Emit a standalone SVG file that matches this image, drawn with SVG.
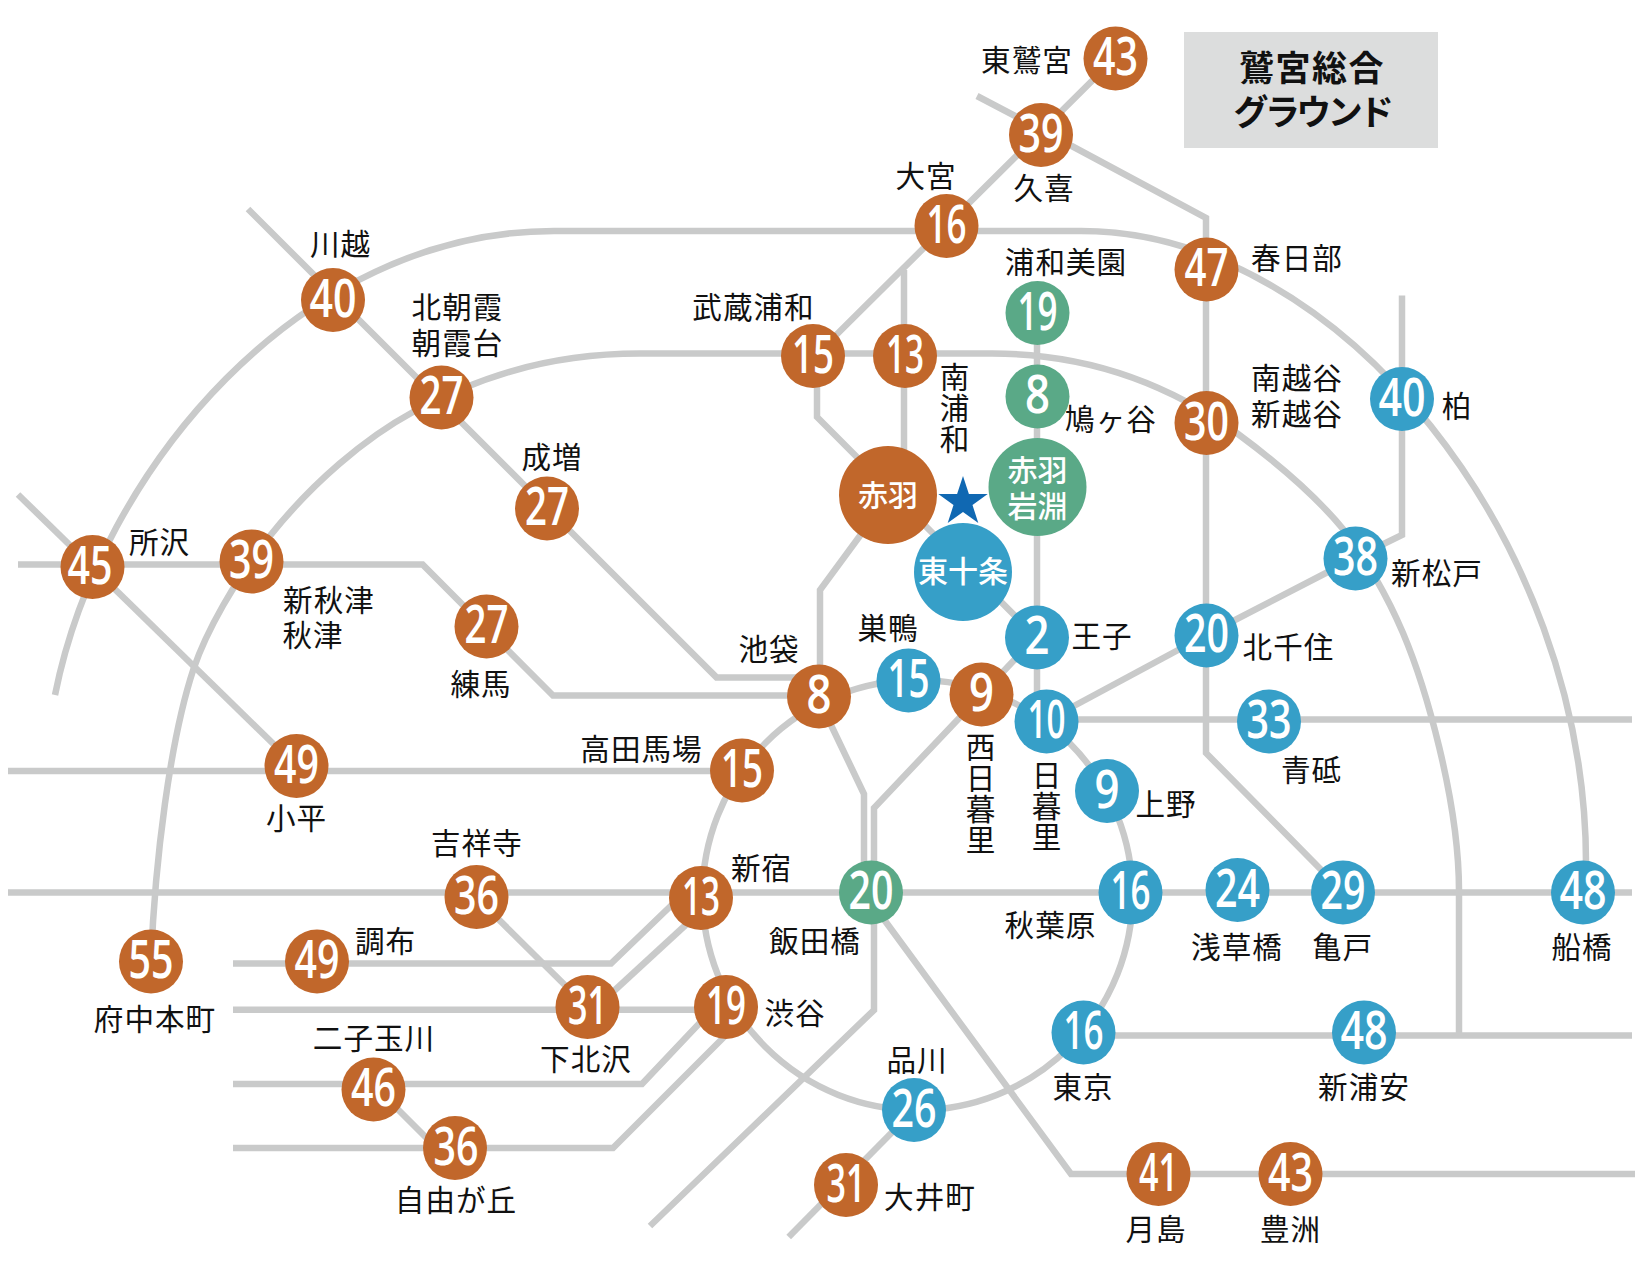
<svg xmlns="http://www.w3.org/2000/svg" width="1640" height="1266" viewBox="0 0 1640 1266">
<style>
.l{fill:none;stroke:#c9caca;stroke-width:6.5;stroke-linejoin:miter}
.o{fill:#c1672b}.b{fill:#369fc8}.g{fill:#5aa987}
.n{font-family:"Open Sans","Liberation Sans",sans-serif;font-weight:600;font-size:52.5px;fill:#fff;text-anchor:middle}
.t{font-family:"Noto Sans CJK JP",sans-serif;font-size:29.6px;letter-spacing:1px;fill:#111;text-anchor:middle}
.v{font-family:"Noto Sans CJK JP",sans-serif;font-size:29.6px;letter-spacing:1.4px;fill:#111;writing-mode:vertical-rl}
.w{font-family:"Noto Sans CJK JP",sans-serif;font-size:30px;font-weight:500;fill:#fff;text-anchor:middle}
.h{font-family:"Noto Sans CJK JP",sans-serif;font-size:35px;font-weight:700;letter-spacing:1.5px;fill:#111;text-anchor:middle}
</style>
<rect width="1640" height="1266" fill="#fff"/>
<g id="connectors">
<circle class="l" cx="917.5" cy="895" r="215"/>
<path class="l" d="M1115,58L817,354V417L1036,637L874,808V1010L650,1226"/>
<path class="l" d="M977,96L1040,129L1206,218V753L1343,892"/>
<path class="l" d="M904,270V450"/>
<path class="l" d="M862,533L820,590V696"/>
<path class="l" d="M1037,313V721"/>
<path class="l" d="M820,702L864,794V892"/>
<path class="l" d="M880,914L1071,1174H1635"/>
<path class="l" d="M55,695C100,470 300,231 554,231H1081C1340,231 1586,540 1586,863V892"/>
<path class="l" d="M151,961C155,860 170,740 193.5,669C206,632 235,580 269,537C312,483 365,438 413,412C470,382 540,353.6 640,353.6H992C1100,353.6 1180,392 1238,434C1280,465 1315,495 1343,529C1368,562 1388,598 1403,633C1425,685 1459,800 1459,891V1035"/>
<path class="l" d="M18,564.4H422.6L553,695.6H819"/>
<path class="l" d="M248,209L716.5,677.4H800"/>
<path class="l" d="M18,494.5L296,766"/>
<path class="l" d="M8,771H742"/>
<path class="l" d="M8,892.6H1632"/>
<path class="l" d="M1046,719.4H1632"/>
<path class="l" d="M233,963.6H611L680,897"/>
<path class="l" d="M233,1009.7H726"/>
<path class="l" d="M476,897L587,1007"/>
<path class="l" d="M590,1013L690,921"/>
<path class="l" d="M233,1084H642L712,1010"/>
<path class="l" d="M233,1148H613L730,1031"/>
<path class="l" d="M373,1084.5L440,1151.5"/>
<path class="l" d="M788.7,1237L914,1110"/>
<path class="l" d="M1083,1035.5H1632"/>
<path class="l" d="M1206,635L1046,721"/>
<path class="l" d="M1206,635L1355,558L1402,535V295.5"/>
</g>
<g id="title"><rect x="1184" y="32" width="254" height="116" fill="#dcdddd"/><text class="h" x="1312" y="81">鷲宮総合</text><text class="h" x="1312" y="125" style="letter-spacing:-3.6px">グラウンド</text></g>
<polygon id="star" fill="#1068b2" points="963,476 968.9,493.9 987.7,494 972.5,505.1 978.3,523 963,512 947.7,523 953.5,505.1 938.3,494 957.1,493.9"/>

<g id="n-higashiwashinomiya"><circle class="o" cx="1115.5" cy="58.5" r="32"/><text class="n" x="1115.5" y="75" textLength="45" lengthAdjust="spacingAndGlyphs">43</text><text class="t" x="1027" y="71">東鷲宮</text></g>
<g id="n-kuki"><circle class="o" cx="1041" cy="135" r="32"/><text class="n" x="1041" y="151.5" textLength="45" lengthAdjust="spacingAndGlyphs">39</text><text class="t" x="1044" y="199">久喜</text></g>
<g id="n-omiya"><circle class="o" cx="946.5" cy="226" r="32"/><text class="n" x="946.5" y="242.5" textLength="40" lengthAdjust="spacingAndGlyphs">16</text><text class="t" x="926" y="187">大宮</text></g>
<g id="n-kasukabe"><circle class="o" cx="1206.5" cy="269.5" r="32"/><text class="n" x="1206.5" y="286" textLength="44" lengthAdjust="spacingAndGlyphs">47</text><text class="t" x="1297" y="269">春日部</text></g>
<g id="n-urawamisono"><circle class="g" cx="1037.5" cy="313" r="32"/><text class="n" x="1037.5" y="329.5" textLength="40" lengthAdjust="spacingAndGlyphs">19</text><text class="t" x="1066" y="273">浦和美園</text></g>
<g id="n-minamiurawa"><circle class="o" cx="905" cy="356" r="32"/><text class="n" x="905" y="372.5" textLength="38" lengthAdjust="spacingAndGlyphs">13</text><text class="v" x="954.5" y="362">南浦和</text></g>
<g id="n-hatogaya"><circle class="g" cx="1037.5" cy="396.5" r="32"/><text class="n" x="1037.5" y="413" textLength="25" lengthAdjust="spacingAndGlyphs">8</text><text class="t" x="1111" y="429.5">鳩ヶ谷</text></g>
<g id="n-minamikoshigaya"><circle class="o" cx="1206.5" cy="423" r="32"/><text class="n" x="1206.5" y="439.5" textLength="45" lengthAdjust="spacingAndGlyphs">30</text><text class="t"><tspan x="1297" y="388.5">南越谷</tspan><tspan x="1297" y="425">新越谷</tspan></text></g>
<g id="n-kashiwa"><circle class="b" cx="1402" cy="399" r="32"/><text class="n" x="1402" y="415.5" textLength="47" lengthAdjust="spacingAndGlyphs">40</text><text class="t" x="1457" y="416.5">柏</text></g>
<g id="n-akabane"><circle class="o" cx="888" cy="495" r="49"/><text class="w" x="888" y="506">赤羽</text></g>
<g id="n-akabaneiwabuchi"><circle class="g" cx="1037.5" cy="487" r="49"/><text class="w"><tspan x="1037.5" y="480.5">赤羽</tspan><tspan x="1037.5" y="516.5">岩淵</tspan></text></g>
<g id="n-higashijujo"><circle class="b" cx="963" cy="572" r="49"/><text class="w" x="963" y="582">東十条</text></g>
<g id="n-shinmatsudo"><circle class="b" cx="1355.5" cy="558.5" r="32"/><text class="n" x="1355.5" y="575" textLength="45" lengthAdjust="spacingAndGlyphs">38</text><text class="t" x="1437" y="584">新松戸</text></g>
<g id="n-oji"><circle class="b" cx="1037" cy="637.5" r="32"/><text class="n" x="1037" y="654" textLength="25" lengthAdjust="spacingAndGlyphs">2</text><text class="t" x="1102" y="647">王子</text></g>
<g id="n-kitasenju"><circle class="b" cx="1206.5" cy="635.5" r="32"/><text class="n" x="1206.5" y="652" textLength="45" lengthAdjust="spacingAndGlyphs">20</text><text class="t" x="1288.5" y="658">北千住</text></g>
<g id="n-sugamo"><circle class="b" cx="908.5" cy="680.5" r="32"/><text class="n" x="908.5" y="697" textLength="42" lengthAdjust="spacingAndGlyphs">15</text><text class="t" x="888" y="638.5">巣鴨</text></g>
<g id="n-nishinippori"><circle class="o" cx="981.5" cy="694.5" r="32"/><text class="n" x="981.5" y="711" textLength="25" lengthAdjust="spacingAndGlyphs">9</text><text class="v" x="980.5" y="732">西日暮里</text></g>
<g id="n-nippori"><circle class="b" cx="1046.5" cy="721.5" r="32"/><text class="n" x="1046.5" y="738" textLength="38" lengthAdjust="spacingAndGlyphs">10</text><text class="v" x="1046.5" y="760">日暮里</text></g>
<g id="n-aoto"><circle class="b" cx="1269" cy="721.5" r="32"/><text class="n" x="1269" y="738" textLength="45" lengthAdjust="spacingAndGlyphs">33</text><text class="t" x="1311.5" y="781">青砥</text></g>
<g id="n-ueno"><circle class="b" cx="1107" cy="791" r="32"/><text class="n" x="1107" y="807.5" textLength="25" lengthAdjust="spacingAndGlyphs">9</text><text class="t" x="1166" y="815">上野</text></g>
<g id="n-iidabashi"><circle class="g" cx="871" cy="892.5" r="32"/><text class="n" x="871" y="909" textLength="45" lengthAdjust="spacingAndGlyphs">20</text><text class="t" x="815" y="951.5">飯田橋</text></g>
<g id="n-akihabara"><circle class="b" cx="1130.5" cy="892.5" r="32"/><text class="n" x="1130.5" y="909" textLength="40" lengthAdjust="spacingAndGlyphs">16</text><text class="t" x="1050.5" y="935.5">秋葉原</text></g>
<g id="n-asakusabashi"><circle class="b" cx="1237.5" cy="890" r="32"/><text class="n" x="1237.5" y="906.5" textLength="45" lengthAdjust="spacingAndGlyphs">24</text><text class="t" x="1237" y="958">浅草橋</text></g>
<g id="n-kameido"><circle class="b" cx="1343" cy="892.5" r="32"/><text class="n" x="1343" y="909" textLength="45" lengthAdjust="spacingAndGlyphs">29</text><text class="t" x="1342.5" y="958">亀戸</text></g>
<g id="n-funabashi"><circle class="b" cx="1583" cy="892.5" r="32"/><text class="n" x="1583" y="909" textLength="47" lengthAdjust="spacingAndGlyphs">48</text><text class="t" x="1582" y="958">船橋</text></g>
<g id="n-tokyo"><circle class="b" cx="1083.5" cy="1032.5" r="32"/><text class="n" x="1083.5" y="1049" textLength="40" lengthAdjust="spacingAndGlyphs">16</text><text class="t" x="1083" y="1098">東京</text></g>
<g id="n-shinurayasu"><circle class="b" cx="1364" cy="1032.5" r="32"/><text class="n" x="1364" y="1049" textLength="47" lengthAdjust="spacingAndGlyphs">48</text><text class="t" x="1364" y="1098">新浦安</text></g>
<g id="n-shinagawa"><circle class="b" cx="914" cy="1110" r="32"/><text class="n" x="914" y="1126.5" textLength="45" lengthAdjust="spacingAndGlyphs">26</text><text class="t" x="917" y="1071">品川</text></g>
<g id="n-oimachi"><circle class="o" cx="846" cy="1185" r="32"/><text class="n" x="846" y="1201.5" textLength="39" lengthAdjust="spacingAndGlyphs">31</text><text class="t" x="930" y="1208">大井町</text></g>
<g id="n-tsukishima"><circle class="o" cx="1158.5" cy="1174" r="32"/><text class="n" x="1158.5" y="1190.5" textLength="39" lengthAdjust="spacingAndGlyphs">41</text><text class="t" x="1156" y="1240">月島</text></g>
<g id="n-toyosu"><circle class="o" cx="1290.5" cy="1174" r="32"/><text class="n" x="1290.5" y="1190.5" textLength="45" lengthAdjust="spacingAndGlyphs">43</text><text class="t" x="1290.5" y="1240">豊洲</text></g>

<g id="n-kawagoe"><circle class="o" cx="333" cy="300" r="32"/><text class="n" x="333" y="316.5" textLength="47" lengthAdjust="spacingAndGlyphs">40</text><text class="t" x="340.5" y="255">川越</text></g>
<g id="n-kitaasaka"><circle class="o" cx="441.5" cy="397.5" r="32"/><text class="n" x="441.5" y="414" textLength="44" lengthAdjust="spacingAndGlyphs">27</text><text class="t"><tspan x="457.5" y="318">北朝霞</tspan><tspan x="457.5" y="353.5">朝霞台</tspan></text></g>
<g id="n-narimasu"><circle class="o" cx="547" cy="508.5" r="32"/><text class="n" x="547" y="525" textLength="44" lengthAdjust="spacingAndGlyphs">27</text><text class="t" x="552" y="468">成増</text></g>
<g id="n-tokorozawa"><circle class="o" cx="92.5" cy="567" r="32"/><text class="n" x="90" y="583.5" textLength="45" lengthAdjust="spacingAndGlyphs">45</text><text class="t" x="159.5" y="553">所沢</text></g>
<g id="n-shinakitsu"><circle class="o" cx="251.5" cy="561.5" r="32"/><text class="n" x="251.5" y="578" textLength="45" lengthAdjust="spacingAndGlyphs">39</text><text class="t"><tspan x="329" y="611">新秋津</tspan><tspan x="313" y="646">秋津</tspan></text></g>
<g id="n-musashiurawa"><circle class="o" cx="813" cy="356" r="32"/><text class="n" x="813" y="372.5" textLength="42" lengthAdjust="spacingAndGlyphs">15</text><text class="t" x="753.5" y="318">武蔵浦和</text></g>
<g id="n-nerima"><circle class="o" cx="486.5" cy="626.5" r="32"/><text class="n" x="486.5" y="643" textLength="44" lengthAdjust="spacingAndGlyphs">27</text><text class="t" x="481" y="695">練馬</text></g>
<g id="n-ikebukuro"><circle class="o" cx="819" cy="696.5" r="32"/><text class="n" x="819" y="713" textLength="25" lengthAdjust="spacingAndGlyphs">8</text><text class="t" x="769" y="660">池袋</text></g>
<g id="n-kodaira"><circle class="o" cx="296.5" cy="766" r="32"/><text class="n" x="296.5" y="782.5" textLength="45" lengthAdjust="spacingAndGlyphs">49</text><text class="t" x="296.5" y="829">小平</text></g>
<g id="n-takadanobaba"><circle class="o" cx="742" cy="770.5" r="32"/><text class="n" x="742" y="787" textLength="42" lengthAdjust="spacingAndGlyphs">15</text><text class="t" x="641.5" y="760">高田馬場</text></g>
<g id="n-kichijoji"><circle class="o" cx="476.5" cy="897" r="32"/><text class="n" x="476.5" y="913.5" textLength="45" lengthAdjust="spacingAndGlyphs">36</text><text class="t" x="477" y="854">吉祥寺</text></g>
<g id="n-shinjuku"><circle class="o" cx="701" cy="898" r="32"/><text class="n" x="701" y="914.5" textLength="38" lengthAdjust="spacingAndGlyphs">13</text><text class="t" x="761.5" y="879">新宿</text></g>
<g id="n-fuchuhonmachi"><circle class="o" cx="151" cy="961.5" r="32"/><text class="n" x="151" y="978" textLength="45" lengthAdjust="spacingAndGlyphs">55</text><text class="t" x="155" y="1029.5">府中本町</text></g>
<g id="n-chofu"><circle class="o" cx="317" cy="961.5" r="32"/><text class="n" x="317" y="978" textLength="45" lengthAdjust="spacingAndGlyphs">49</text><text class="t" x="385.5" y="951.5">調布</text></g>
<g id="n-shimokitazawa"><circle class="o" cx="587.5" cy="1007" r="32"/><text class="n" x="587.5" y="1023.5" textLength="39" lengthAdjust="spacingAndGlyphs">31</text><text class="t" x="586" y="1070">下北沢</text></g>
<g id="n-shibuya"><circle class="o" cx="726" cy="1007" r="32"/><text class="n" x="726" y="1023.5" textLength="40" lengthAdjust="spacingAndGlyphs">19</text><text class="t" x="795" y="1023.5">渋谷</text></g>
<g id="n-futakotamagawa"><circle class="o" cx="373.5" cy="1089.5" r="32"/><text class="n" x="373.5" y="1106" textLength="45" lengthAdjust="spacingAndGlyphs">46</text><text class="t" x="374" y="1048.5">二子玉川</text></g>
<g id="n-jiyugaoka"><circle class="o" cx="455" cy="1148" r="32"/><text class="n" x="456" y="1164.5" textLength="45" lengthAdjust="spacingAndGlyphs">36</text><text class="t" x="456" y="1211">自由が丘</text></g>
</svg>
